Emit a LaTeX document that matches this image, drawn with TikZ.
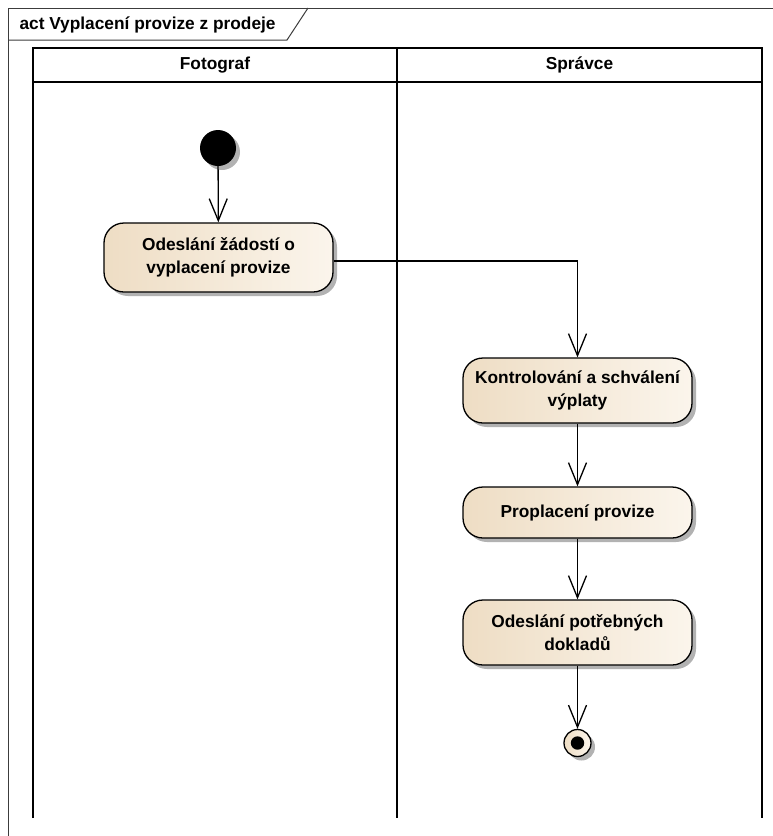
\documentclass[tikz,border=0pt]{standalone}
\usepackage{fontspec}
\setmainfont{Liberation Sans}
\usetikzlibrary{arrows.meta,shadows}

\definecolor{framegray}{HTML}{3C3C3C}
\definecolor{actleft}{HTML}{EEDDC4}
\definecolor{actright}{HTML}{FBF5EC}

\tikzset{
  txt/.style={font=\fontsize{17.3}{22.5}\selectfont\bfseries, text=black},
  lane/.style={line width=1.8pt, black},
  frameline/.style={line width=1pt, framegray},
  boxshadow/.style={drop shadow={shadow xshift=4pt, shadow yshift=-4pt, fill=black, opacity=0.3}},
  action/.style={txt, draw=black, line width=1.3pt, rounded corners=20pt,
    left color=actleft, right color=actright, boxshadow,
    minimum width=229pt, align=center, inner sep=0pt},
  flow/.style={line width=1.3pt, black, -{Straight Barb[length=22pt,width=18pt,line width=1.3pt]}},
  initial/.style={circle, fill=black, minimum size=36pt, inner sep=0pt, boxshadow},
  final/.style={circle, draw=black, line width=1.3pt, left color=actleft, right color=actright,
    minimum size=27pt, inner sep=0pt, boxshadow},
}

\begin{document}
\begin{tikzpicture}[x=1pt, y=-1pt]
  \useasboundingbox (0,0) rectangle (773,836);
  \fill[white] (0,0) rectangle (773,836);

  % diagram frame with its name tab
  \draw[frameline] (8,836) -- (8,8) -- (773,8);
  \draw[frameline] (8,40) -- (287,40) -- (308,8);
  \node[txt, anchor=west] (title) at (16,25) {act Vyplacení provize z prodeje};

  % swimlanes
  \draw[lane] (33,818) -- (33,48) -- (762,48) -- (762,818);
  \draw[lane] (397,48) -- (397,818);
  \draw[lane] (33,82) -- (762,82);
  \node[txt] (laneA) at (215,65) {Fotograf};
  \node[txt] (laneB) at (579.5,65) {Správce};

  % activity nodes
  \node[initial] (start) at (218,148) {};
  \node[action, minimum height=69pt] (send) at (218.5,257.5)
    {Odeslání žádostí o\\vyplacení provize};
  \node[action, minimum height=65pt] (check) at (577.5,390.5)
    {Kontrolování a schválení\\výplaty};
  \node[action, minimum height=51pt] (pay) at (577.5,512.5)
    {Proplacení provize};
  \node[action, minimum height=65pt] (docs) at (577.5,632.5)
    {Odeslání potřebných\\dokladů};
  \node[final] (end) at (577.5,743) {};
  \fill[black] (end.center) circle (6.7pt);

  % control flows
  \draw[flow] ([yshift=-3.5pt]send.east) -| (check.north);
  \draw[flow] (start) -- (send);
  \draw[flow] (check) -- (pay);
  \draw[flow] (pay) -- (docs);
  \draw[flow] (docs) -- (end);
\end{tikzpicture}
\end{document}
